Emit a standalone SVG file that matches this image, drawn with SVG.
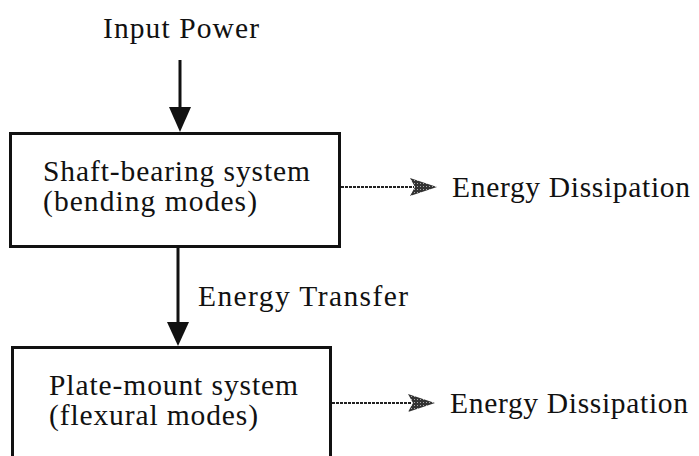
<svg xmlns="http://www.w3.org/2000/svg" width="699" height="456" viewBox="0 0 699 456">
<style>
  text { font-family: "Liberation Serif", "Times New Roman", serif; font-size: 29.5px; fill: #111; }
  .box { fill: #fff; stroke: #111; stroke-width: 3; }
  .main { stroke: #111; stroke-width: 3; fill: none; }
  .diss { stroke: #222; stroke-width: 2.2; stroke-dasharray: 3 1; fill: none; }
</style>
<defs>
  <pattern id="stip" width="3" height="3" patternUnits="userSpaceOnUse">
    <rect width="3" height="3" fill="#333"/>
    <rect width="1" height="1" fill="#aaa"/>
  </pattern>
</defs>
<text x="103" y="38" textLength="156">Input Power</text>
<g id="shaft">
  <rect class="box" x="10.5" y="133.5" width="329" height="113"/>
  <text x="43" y="181" textLength="267">Shaft-bearing system</text>
  <text x="43" y="210.5" textLength="214">(bending modes)</text>
</g>
<g id="plate">
  <rect class="box" x="12.5" y="347.5" width="318" height="120"/>
  <text x="49" y="395" textLength="249">Plate-mount system</text>
  <text x="49" y="424.5" textLength="209">(flexural modes)</text>
</g>
<g id="labels">
  <text x="452" y="197" textLength="238">Energy Dissipation</text>
  <text x="198" y="306" textLength="210">Energy Transfer</text>
  <text x="450" y="413" textLength="238">Energy Dissipation</text>
</g>
<g id="connectors">
  <line class="main" x1="180" y1="60" x2="180" y2="108"/>
  <path d="M169,107 L191,107 L180,132 Z" fill="#111"/>
  <line class="main" x1="178" y1="248" x2="178" y2="324"/>
  <path d="M167,322 L189,322 L178,346 Z" fill="#111"/>
  <line class="diss" x1="341" y1="187" x2="414" y2="187"/>
  <path d="M410,178 L437,187 L410,196 L415,187 Z" fill="url(#stip)"/>
  <line class="diss" x1="332" y1="403" x2="412" y2="403"/>
  <path d="M408,394 L435,403 L408,412 L413,403 Z" fill="url(#stip)"/>
</g>
</svg>
